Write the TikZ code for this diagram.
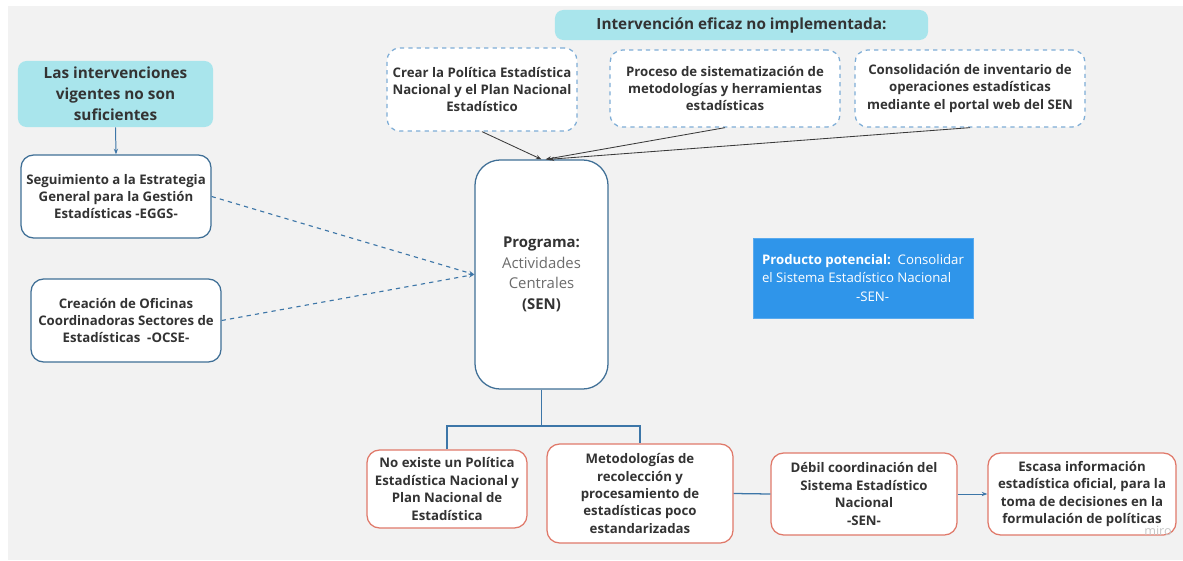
\documentclass[tikz,border=0pt]{standalone}
\usepackage{fontspec}
\setmainfont{Open Sans}
\usepackage{tikz}
\usetikzlibrary{arrows.meta, positioning, calc}
\definecolor{mbg}{HTML}{F2F2F2}
\definecolor{mcyan}{HTML}{A9E5EC}
\definecolor{msteel}{HTML}{3F6F96}
\definecolor{mdash}{HTML}{7EADD6}
\definecolor{mred}{HTML}{E0796A}
\definecolor{mprod}{HTML}{2F95EA}
\definecolor{mtext}{HTML}{333333}
\definecolor{mline}{HTML}{3D76A8}
\definecolor{mdark}{HTML}{3A3A3A}
\newcommand{\boxfont}{\fontsize{9.4}{12.4}\selectfont\bfseries}
\tikzset{
  cbox/.style={fill=mcyan, rounded corners=6pt, align=center, text=mtext,
               font=\bfseries, inner sep=3pt},
  bbox/.style={draw=msteel, line width=0.9pt, fill=white, rounded corners=9pt,
               align=center, text=mtext, font=\boxfont, inner sep=3pt},
  dbox/.style={draw=mdash, dashed, line width=0.9pt, fill=white, rounded corners=9pt,
               align=center, text=mtext, font=\boxfont, inner sep=3pt},
  rbox/.style={draw=mred, line width=0.9pt, fill=white, rounded corners=9pt,
               align=center, text=mtext, font=\boxfont, inner sep=3pt},
  arr/.style={-{Stealth[length=4pt]}, mdark, line width=0.6pt},
  barr/.style={-{Stealth[length=4pt]}, mline, line width=0.7pt},
  darr/.style={-{Stealth[length=4pt]}, mline, dashed, line width=0.8pt},
  bline/.style={mline, line width=0.9pt},
}
\begin{document}
\begin{tikzpicture}[x=0.025cm, y=-0.025cm]
  %% canvas
  \fill[white] (0,0) rectangle (1183,560);
  \fill[mbg] (8,6) rectangle (1183,560);
  \useasboundingbox (0,0) rectangle (1183,560);

  %% left column
  \node[cbox, minimum width=4.875cm, minimum height=1.65cm,
        font=\fontsize{10.9}{15}\selectfont\bfseries]
    (vig) at (115.5,94) {Las intervenciones\\vigentes no son\\suficientes};
  \node[bbox, minimum width=4.75cm, minimum height=2.075cm]
    (seg) at (116,196.5) {Seguimiento a la Estrategia\\General para la Gestión\\Estadísticas -EGGS-};
  \node[bbox, minimum width=4.75cm, minimum height=2.075cm]
    (crea) at (126,320.5) {Creación de Oficinas\\Coordinadoras Sectores de\\Estadísticas\ \ -OCSE-};

  %% central program
  \node[bbox, rounded corners=18pt, minimum width=3.325cm, minimum height=5.725cm,
        font=\fontsize{10.6}{14.6}\selectfont]
    (prog) at (541.5,274.5)
    {\textbf{Programa:}\\\mdseries\color{gray!85!black}Actividades\\\mdseries\color{gray!85!black}Centrales\\\textbf{(SEN)}};

  %% top row
  \node[cbox, minimum width=9.325cm, minimum height=0.75cm,
        font=\fontsize{10.9}{13}\selectfont\bfseries]
    (hdr) at (741.5,25) {Intervención eficaz no implementada:};
  \node[dbox, minimum width=4.75cm, minimum height=2.075cm]
    (pol) at (482,89.5) {Crear la Política Estadística\\Nacional y el Plan Nacional\\Estadístico};
  \node[dbox, minimum width=5.75cm, minimum height=1.925cm]
    (sis) at (725,88.5) {Proceso de sistematización de\\metodologías y herramientas\\estadísticas};
  \node[dbox, minimum width=5.75cm, minimum height=1.925cm]
    (inv) at (970,88.5) {Consolidación de inventario de\\operaciones estadísticas\\mediante el portal web del SEN};

  %% product
  \node[fill=mprod, draw=mprod!80!white, minimum width=5.5cm, minimum height=2cm,
        align=left, text=white, font=\fontsize{9.4}{13}\selectfont, inner sep=3pt]
    (prod) at (863,278)
    {\textbf{Producto potencial:}\ \ Consolidar\\el Sistema Estadístico Nacional\\\hspace*{2.35cm}-SEN-};

  %% bottom row
  \node[rbox, minimum width=4cm, minimum height=1.95cm]
    (noex) at (447,489) {No existe un Política\\Estadística Nacional y\\Plan Nacional de\\Estadística};
  \node[rbox, minimum width=4.65cm, minimum height=2.475cm]
    (met) at (640,493.5) {Metodologías de\\recolección y\\procesamiento de\\estadísticas poco\\estandarizadas};
  \node[rbox, minimum width=4.65cm, minimum height=2.05cm]
    (deb) at (864,494) {Débil coordinación del\\Sistema Estadístico\\Nacional\\-SEN-};
  \node[rbox, minimum width=4.7cm, minimum height=2.05cm]
    (esc) at (1082,494) {Escasa información\\estadística oficial, para la\\toma de decisiones en la\\formulación de políticas};
  \node[text=gray!45, font=\small] (miro) at (1158,531) {miro};

  %% connectors
  \draw[barr] (vig.south) -- (seg.north);
  \draw[darr] (seg.east) -- (prog.west);
  \draw[darr] (crea.east) -- (prog.west);
  \draw[arr] (pol.south) -- (prog.north);
  \draw[arr] (sis.south) -- ([xshift=0.1cm]prog.north);
  \draw[arr] (inv.south) -- ([xshift=0.18cm]prog.north);

  \coordinate (split) at (541.5,426);
  \draw[bline] (prog.south) -- (split);
  \draw[bline] (noex.north) |- (split) -| (met.north);
  \draw[bline] (met.east) -- (deb.west);
  \draw[barr] (deb.east) -- (esc.west);
\end{tikzpicture}
\end{document}
